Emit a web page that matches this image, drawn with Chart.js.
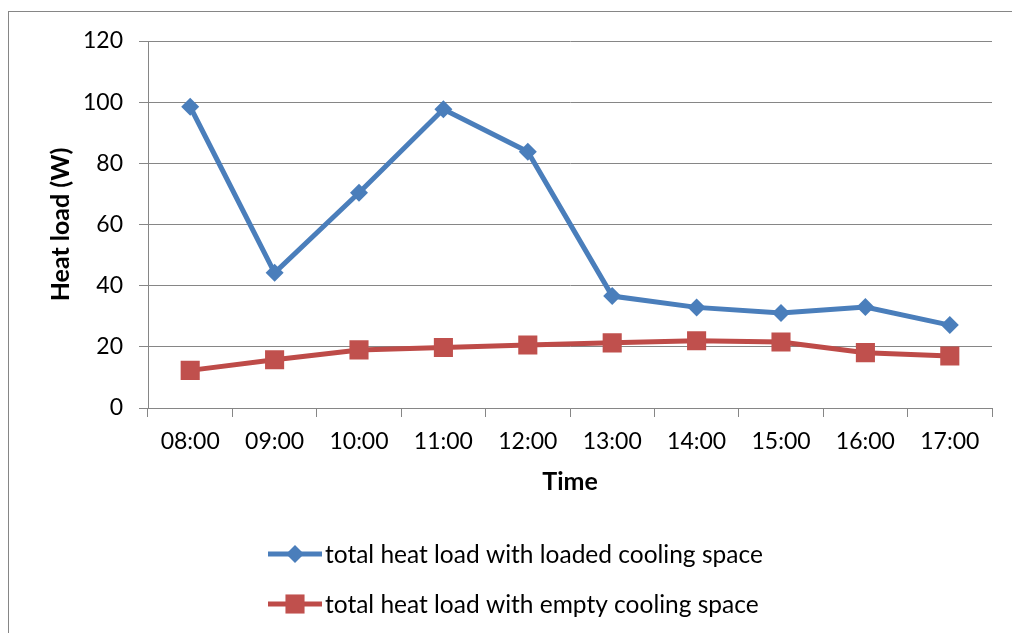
<!DOCTYPE html>
<html>
<head>
<meta charset="utf-8">
<script src="https://cdn.jsdelivr.net/npm/chart.js@4.4.1/dist/chart.umd.min.js"></script>
<style>
  html, body { margin: 0; padding: 0; background: #fff; }
  #wrap { width: 1012px; height: 633px; position: relative; }
</style>
</head>
<body>
<div id="wrap"><canvas id="heatChart"></canvas></div>
<script>
// Horas de medición
const hours = ['08:00', '09:00', '10:00', '11:00', '12:00', '13:00', '14:00', '15:00', '16:00', '17:00'];

// Carga térmica total (W)
const loadedSpace = [98.5, 44.2, 70.4, 97.7, 83.8, 36.6, 32.9, 31.1, 33.0, 27.1];
const emptySpace  = [12.3, 15.8, 19.0, 19.8, 20.6, 21.3, 22.0, 21.6, 18.1, 17.0];

const yTicks = { min: 0, max: 120, step: 20 };

const FONT = 'Lato, "Noto Sans", sans-serif';
const AXIS_GREY = '#868686';

// Marco exterior del gráfico
const framePlugin = {
    id: 'frame',
    beforeDraw(chart) {
        const ctx = chart.ctx;
        ctx.save();
        ctx.fillStyle = '#fff';
        ctx.fillRect(0, 0, chart.width, chart.height);
        ctx.strokeStyle = AXIS_GREY;
        ctx.lineWidth = 1;
        ctx.strokeRect(8.5, 11.5, chart.width + 10, chart.height + 10);
        ctx.restore();
    }
};

// Leyenda vertical: línea + marcador + texto
const stackedLegend = {
    id: 'stackedLegend',
    afterDraw(chart) {
        const ctx = chart.ctx;
        const x0 = 268, x1 = 322, firstY = 554, gap = 50;
        ctx.save();
        chart.data.datasets.forEach((ds, i) => {
            const y = firstY + i * gap;
            ctx.strokeStyle = ds.borderColor;
            ctx.lineWidth = ds.borderWidth;
            ctx.beginPath();
            ctx.moveTo(x0, y);
            ctx.lineTo(x1, y);
            ctx.stroke();
            ctx.fillStyle = ds.pointBackgroundColor;
            Chart.helpers.drawPoint(ctx, {
                pointStyle: ds.pointStyle,
                radius: ds.pointRadius,
                rotation: 0
            }, (x0 + x1) / 2, y);
            ctx.fillStyle = '#000';
            ctx.font = '24.5px ' + FONT;
            ctx.textBaseline = 'middle';
            ctx.textAlign = 'left';
            ctx.fillText(ds.label, x1 + 3, y + 1);
        });
        ctx.restore();
    }
};

new Chart(document.getElementById('heatChart'), {
    type: 'line',
    data: {
        labels: hours,
        datasets: [
            {
                label: 'total heat load with loaded cooling space',
                data: loadedSpace,
                borderColor: '#4A7EBB',
                borderWidth: 5,
                pointStyle: 'rectRot',
                pointRadius: 9,
                pointBackgroundColor: '#4A7EBB',
                pointBorderColor: '#4A7EBB',
                pointBorderWidth: 0,
                tension: 0
            },
            {
                label: 'total heat load with empty cooling space',
                data: emptySpace,
                borderColor: '#BE4B48',
                borderWidth: 5,
                pointStyle: 'rect',
                pointRadius: 13.5,
                pointBackgroundColor: '#C0504D',
                pointBorderColor: '#C0504D',
                pointBorderWidth: 0,
                tension: 0
            }
        ]
    },
    options: {
        responsive: true,
        maintainAspectRatio: false,
        animation: false,
        events: [],
        layout: { padding: { left: 0, top: 41, right: 20, bottom: 120 } },
        plugins: {
            legend: { display: false },
            tooltip: { enabled: false }
        },
        scales: {
            x: {
                offset: true,
                afterFit: s => { s.height = 105; },
                grid: {
                    offset: true,
                    drawOnChartArea: false,
                    drawTicks: true,
                    tickLength: 9,
                    color: AXIS_GREY
                },
                border: { display: true, color: AXIS_GREY, width: 1 },
                ticks: {
                    color: '#000',
                    font: { family: FONT, size: 23 },
                    padding: 11,
                    maxRotation: 0,
                    autoSkip: false
                },
                title: {
                    display: true,
                    text: 'Time',
                    color: '#000',
                    font: { family: FONT, size: 25, weight: 'bold' },
                    padding: { top: 0, bottom: 16 }
                }
            },
            y: {
                min: yTicks.min,
                max: yTicks.max,
                afterFit: s => { s.width = 148; },
                grid: {
                    color: AXIS_GREY,
                    drawTicks: true,
                    tickLength: 9
                },
                border: { display: true, color: AXIS_GREY, width: 1 },
                ticks: {
                    stepSize: yTicks.step,
                    color: '#000',
                    font: { family: FONT, size: 23 },
                    padding: 16
                },
                title: {
                    display: true,
                    text: 'Heat load (W)',
                    color: '#000',
                    font: { family: FONT, size: 25, weight: 'bold' },
                    padding: { top: 46, bottom: 0 }
                }
            }
        }
    },
    plugins: [framePlugin, stackedLegend]
});
</script>
</body>
</html>
